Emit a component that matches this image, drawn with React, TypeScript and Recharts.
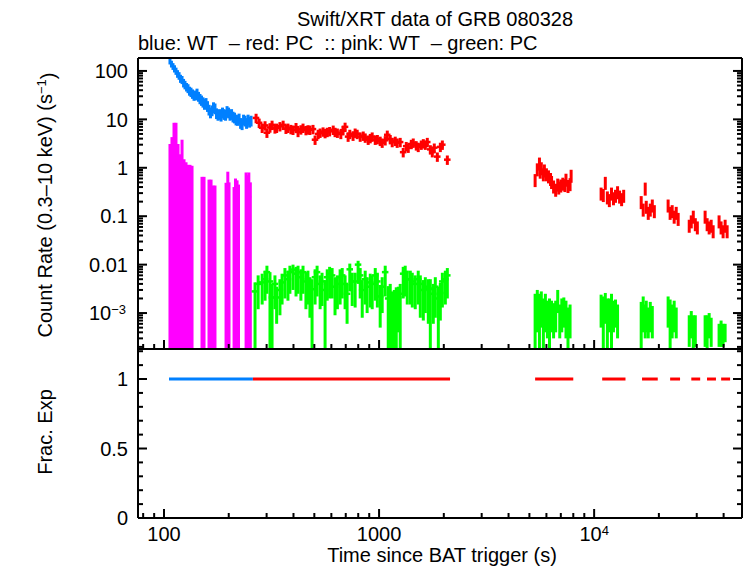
import React from 'react';
import { ComposedChart, Scatter, ErrorBar, XAxis, YAxis } from 'recharts';

const FONT = '"Liberation Sans", Arial, Helvetica, sans-serif';
const BLUE = '#0080ff';
const RED = '#ff0000';
const PINK = '#ff00ff';
const GREEN = '#00ff00';

const X_MIN = 75.7, X_MAX = 48700;
const Y_MIN = 1.81e-4, Y_MAX = 185;
const F_MIN = 0, F_MAX = 1.216;

// ---- tick values ----
const xMajor = [100, 1000, 10000];
const xMinor = [80, 90, 200, 300, 400, 500, 600, 700, 800, 900, 2000, 3000, 4000, 5000, 6000, 7000, 8000, 9000, 20000, 30000, 40000];
const yMajor = [0.001, 0.01, 0.1, 1, 10, 100];
const yMinor = [
  2e-4, 3e-4, 4e-4, 5e-4, 6e-4, 7e-4, 8e-4, 9e-4,
  2e-3, 3e-3, 4e-3, 5e-3, 6e-3, 7e-3, 8e-3, 9e-3,
  0.02, 0.03, 0.04, 0.05, 0.06, 0.07, 0.08, 0.09,
  0.2, 0.3, 0.4, 0.5, 0.6, 0.7, 0.8, 0.9,
  2, 3, 4, 5, 6, 7, 8, 9,
  20, 30, 40, 50, 60, 70, 80, 90,
];
const fracTicks = [0, 0.1, 0.2, 0.3, 0.4, 0.5, 0.6, 0.7, 0.8, 0.9, 1, 1.1, 1.2];
const fracMajor = [0, 0.5, 1];

// ---- data ----
// WT (blue): [time, rate, relative error]
const bluePts: [number, number, number][] = [
  [106.6, 160, 0.15], [108.3, 140, 0.16], [110.1, 125, 0.16], [111.9, 112, 0.17], [113.7, 100, 0.17],
  [115.6, 88, 0.18], [117.5, 80, 0.18], [119.3, 70, 0.19], [121.3, 66, 0.19], [123.3, 57, 0.2],
  [125.2, 52, 0.2], [127.3, 47, 0.2], [129.3, 44, 0.21], [131.4, 39, 0.21], [133.5, 37, 0.22],
  [135.7, 34, 0.22], [137.9, 31, 0.22], [140.1, 32, 0.23], [142.4, 35, 0.23], [144.7, 30, 0.23],
  [147, 27, 0.24], [149.4, 25, 0.24], [151.8, 23, 0.24], [154.3, 21, 0.25], [156.8, 22, 0.25],
  [159.3, 19, 0.25], [161.9, 16, 0.25], [164.5, 14, 0.25], [167.2, 15.5, 0.25], [169.9, 18, 0.25],
  [172.6, 17, 0.25], [175.4, 13.5, 0.25], [178.3, 12.5, 0.25], [181.2, 13, 0.25], [184.2, 12, 0.25],
  [187.1, 14, 0.25], [190.2, 13, 0.25], [193.3, 12.5, 0.25], [196.4, 15, 0.25], [199.6, 14, 0.25],
  [202.8, 12.5, 0.25], [206.1, 13, 0.25], [209.4, 11.5, 0.25], [212.8, 11, 0.25], [216.3, 10, 0.25],
  [219.8, 9.8, 0.25], [223.4, 10.5, 0.25], [227, 8.5, 0.25], [230.7, 8, 0.25], [234.4, 10, 0.25],
  [238.2, 9.5, 0.25], [242.1, 8.5, 0.25], [246, 10, 0.25], [250, 9, 0.25], [254, 9.5, 0.25],
];
const BLUE_BIN = 0.008;

// PC (red), early orbit: [time, rate]
const redEarly: [number, number][] = [
  [268, 10.7], [277, 8.5], [286, 6.7], [295, 7.5], [301, 5.3], [311, 6.8], [318, 7.7], [328, 6.5],
  [334, 6.7], [346, 7.2], [358, 7.7], [369, 6.4], [377, 6.7], [389, 6.3], [398, 6.1], [411, 6.9],
  [420, 5.5], [433, 6.2], [443, 6.7], [457, 6.0], [467, 6.2], [477, 6.1], [493, 6.3], [504, 3.8],
  [521, 5.0], [532, 5.3], [549, 5.6], [561, 5.2], [574, 5.5], [589, 5.7], [612, 6.1], [624, 5.5],
  [640, 5.3], [664, 5.0], [680, 6.0], [695, 7.0], [718, 4.4], [731, 5.0], [757, 4.6], [774, 5.3],
  [791, 5.0], [817, 4.4], [844, 4.6], [862, 4.2], [890, 3.8], [910, 4.1], [929, 4.4], [960, 3.8],
  [982, 3.9], [1012, 3.6], [1034, 3.3], [1068, 3.7], [1092, 4.8], [1127, 3.9], [1151, 3.4], [1189, 3.6],
  [1214, 3.3], [1254, 3.4], [1295, 2.1], [1338, 2.8], [1367, 2.6], [1412, 3.1], [1442, 3.3], [1489, 2.9],
  [1521, 2.7], [1571, 3.0], [1606, 3.2], [1641, 3.0], [1676, 3.4], [1731, 2.4], [1768, 2.1], [1806, 2.6],
  [1866, 1.7], [1927, 2.7], [1969, 3.0], [2077, 1.47],
];
const RED_EARLY_BIN = 0.035;
const RED_EARLY_ERR = 0.22;

// PC (red), later orbits: [time, rate]
const redLate: [number, number][] = [
  [5316, 0.57], [5441, 0.95], [5569, 1.25], [5615, 0.85], [5680, 1.0], [5807, 0.75], [5870, 0.9],
  [6000, 0.75], [6133, 0.68], [6270, 0.6], [6339, 0.52],
  [6478, 0.42], [6625, 0.36], [6772, 0.46], [6846, 0.4], [7000, 0.44], [7152, 0.48], [7310, 0.45],
  [7397, 0.58], [7559, 0.43], [7728, 0.47], [7816, 0.7],
  [10775, 0.3], [11030, 0.28], [11270, 0.5], [11520, 0.25], [11770, 0.22], [12040, 0.3], [12300, 0.24],
  [12570, 0.27], [12850, 0.32], [13130, 0.26], [13420, 0.23], [13720, 0.27],
  [16550, 0.2], [16910, 0.14], [17280, 0.38], [17470, 0.16], [17850, 0.12], [18240, 0.14], [18640, 0.17], [19050, 0.13],
  [22080, 0.17], [22560, 0.12], [23060, 0.13], [23560, 0.1], [24080, 0.12], [24590, 0.09],
  [27680, 0.065], [28290, 0.08], [28910, 0.1], [29540, 0.07], [30190, 0.06],
  [32810, 0.1], [33530, 0.07], [34260, 0.06], [35010, 0.065], [35760, 0.05],
  [38100, 0.08], [38930, 0.06], [39780, 0.05], [40650, 0.065], [41540, 0.05],
];
const RED_LATE_BIN = 0.008;
const RED_LATE_ERR = 0.3;

// WT (pink): [time, rate, upper bound]  (lower bound runs off the axis)
const pinkPts: [number, number, number][] = [
  [106.6, 0.6, 3.1], [108.9, 0.7, 4.3], [111.3, 0.8, 8.5], [113.7, 0.9, 8.5], [116.2, 0.6, 3.1],
  [118.7, 0.5, 1.9], [121.3, 0.6, 3.8], [123.9, 0.5, 1.5], [126.6, 0.5, 1.3], [129.3, 0.45, 1.15],
  [132.1, 0.45, 1.15], [135, 0.57, 1.1],
  [150.2, 0.28, 0.65], [153.5, 0.28, 0.65], [161.9, 0.28, 0.57], [165.5, 0.25, 0.57], [169.1, 0.22, 0.43], [172.6, 0.22, 0.43],
  [194.3, 0.23, 0.49], [198, 0.3, 0.83], [200.6, 0.22, 0.5],
  [211.7, 0.25, 0.4], [215, 0.3, 0.6], [218.6, 0.35, 0.55], [222, 0.25, 0.45],
  [240.8, 0.3, 0.8], [244, 0.35, 0.7], [248, 0.28, 0.8], [252, 0.25, 0.5],
];
const PINK_BIN = 0.009;

// PC (green): [time, rate, lower bound (0 = off axis), upper bound]
const greenPts: [number, number, number, number][] = [
  [265, 0.0028, 0, 0.0043], [274, 0.004, 0.0012, 0.006], [286, 0.0043, 0.0015, 0.0065], [295, 0.005, 0.0018, 0.0075],
  [301, 0.007, 0.0025, 0.0095], [311, 0.0045, 0, 0.007], [318, 0.0021, 0, 0.004], [328, 0.004, 0.0012, 0.006],
  [334, 0.0021, 0.0006, 0.0035], [346, 0.003, 0.0009, 0.005], [354, 0.0043, 0.0015, 0.0065], [365, 0.006, 0.002, 0.0085],
  [377, 0.005, 0.0018, 0.0075], [385, 0.007, 0.0025, 0.0095], [398, 0.0079, 0.003, 0.01], [411, 0.0065, 0.0022, 0.009],
  [420, 0.007, 0.0025, 0.0095], [433, 0.0055, 0.0018, 0.008], [443, 0.007, 0.0025, 0.0095], [457, 0.0045, 0.0012, 0.007],
  [467, 0.005, 0.0015, 0.0075], [477, 0.0035, 0.0008, 0.0055], [488, 0.0031, 0, 0.005], [504, 0.0055, 0.0015, 0.008],
  [515, 0.007, 0.0022, 0.0095], [532, 0.004, 0.0012, 0.006], [543, 0.0045, 0.0014, 0.0068], [561, 0.003, 0, 0.0048],
  [574, 0.0055, 0.0018, 0.008], [589, 0.0065, 0.002, 0.009], [605, 0.006, 0.002, 0.0085], [624, 0.0035, 0.0009, 0.0055],
  [640, 0.004, 0.0012, 0.006], [659, 0.0055, 0.0015, 0.008], [674, 0.006, 0.002, 0.0085], [695, 0.004, 0.0012, 0.006],
  [710, 0.0025, 0.0006, 0.004], [731, 0.008, 0.0028, 0.0105], [750, 0.0045, 0.0014, 0.0068], [774, 0.0045, 0.0013, 0.0068],
  [799, 0.01, 0.004, 0.012], [817, 0.006, 0.002, 0.0085], [835, 0.003, 0.0008, 0.0048], [862, 0.005, 0.0015, 0.0075],
  [880, 0.0035, 0.001, 0.0055], [910, 0.0043, 0.0013, 0.0065], [929, 0.004, 0.0012, 0.006], [960, 0.006, 0.0018, 0.0085],
  [982, 0.0045, 0.0013, 0.0068], [1012, 0.0022, 0.0005, 0.0038], [1034, 0.0035, 0.001, 0.0055], [1068, 0.007, 0.0022, 0.0095],
  [1103, 0.002, 0, 0.0036], [1127, 0.0025, 0, 0.004], [1151, 0.0015, 0, 0.0028], [1177, 0.0018, 0, 0.003],
  [1202, 0.002, 0, 0.0034], [1228, 0.0021, 0.0004, 0.0035], [1254, 0.0025, 0, 0.004], [1295, 0.0065, 0.002, 0.009],
  [1323, 0.007, 0.0022, 0.0095], [1352, 0.005, 0.0015, 0.0075], [1397, 0.005, 0.0015, 0.0075], [1427, 0.0045, 0.0013, 0.0068],
  [1473, 0.004, 0.0012, 0.006], [1521, 0.005, 0.0015, 0.0075], [1555, 0.004, 0.0008, 0.006], [1606, 0.003, 0.0007, 0.0048],
  [1641, 0.0035, 0.001, 0.0055], [1694, 0.0031, 0.0006, 0.005], [1731, 0.0032, 0, 0.005], [1787, 0.0025, 0.0006, 0.004],
  [1826, 0.0035, 0.0008, 0.0055], [1886, 0.002, 0, 0.0035], [1927, 0.0026, 0.0007, 0.0042], [1969, 0.0045, 0.0013, 0.0068],
  [2033, 0.005, 0.0015, 0.0075], [2077, 0.006, 0.002, 0.0085],
  [5316, 0.0015, 0, 0.0025], [5441, 0.0018, 0.0004, 0.003], [5569, 0.0013, 0, 0.0025], [5680, 0.0017, 0.0005, 0.0028],
  [5807, 0.0012, 0, 0.002], [5934, 0.0015, 0.0004, 0.0025], [6064, 0.0011, 0.0003, 0.0018], [6200, 0.0013, 0, 0.002],
  [6339, 0.0011, 0.0004, 0.0018], [6478, 0.0009, 0.0003, 0.0016], [6625, 0.0012, 0.0004, 0.0018], [6772, 0.0022, 0.001, 0.003],
  [6920, 0.0009, 0.0003, 0.0015], [7073, 0.0012, 0.0004, 0.002], [7230, 0.0014, 0.0005, 0.0021], [7397, 0.0011, 0.0003, 0.0018],
  [7559, 0.0008, 0, 0.0013], [7728, 0.001, 0.0003, 0.0015],
  [10775, 0.0015, 0.0005, 0.0024], [11030, 0.0012, 0, 0.0022], [11270, 0.0018, 0.0006, 0.0026], [11520, 0.0011, 0, 0.002],
  [11770, 0.0013, 0.0004, 0.002], [12040, 0.0016, 0, 0.0025], [12300, 0.0011, 0.0004, 0.0018], [12570, 0.0012, 0.0005, 0.0019],
  [12850, 0.0009, 0.0003, 0.0015],
  [16550, 0.001, 0, 0.0017], [16910, 0.0013, 0.0004, 0.0022], [17280, 0.0009, 0.0003, 0.0015], [17470, 0.0012, 0.0004, 0.0018],
  [17850, 0.0008, 0.0003, 0.0013], [18240, 0.0011, 0.0004, 0.0017], [18640, 0.0009, 0.0003, 0.0014],
  [22080, 0.0014, 0.0005, 0.0022], [22560, 0.0011, 0, 0.0019], [23060, 0.0009, 0.0003, 0.0015], [23560, 0.0012, 0.0004, 0.0018],
  [24080, 0.0008, 0.0003, 0.0013],
  [27680, 0.0006, 0.0002, 0.0009], [28290, 0.0007, 0.0003, 0.0011], [28910, 0.0005, 0, 0.0009], [29540, 0.0006, 0.0002, 0.0009],
  [32810, 0.0006, 0.0002, 0.0009], [33530, 0.0005, 0, 0.0009], [34260, 0.0007, 0.0003, 0.001], [35010, 0.0005, 0.0002, 0.0008],
  [38100, 0.0004, 0.0002, 0.0006], [38930, 0.0005, 0.0002, 0.0007], [39780, 0.00042, 0.0002, 0.0006], [40650, 0.00045, 0.00025, 0.0006],
];
const GREEN_EARLY_BIN = 0.035;
const GREEN_LATE_BIN = 0.008;

// Fractional exposure: [start, end, fraction, mode]
const fracPts: [number, number, number, string][] = [
  [105.5, 259, 1, 'WT'], [259, 2138, 1, 'PC'], [5316, 7998, 1, 'PC'], [10900, 13990, 1, 'PC'],
  [16700, 19760, 1, 'PC'], [22560, 25090, 1, 'PC'], [28300, 31120, 1, 'PC'], [33490, 36850, 1, 'PC'],
  [38950, 42870, 1, 'PC'],
];

// ---- row builders ----
type Row = { t: number; v: number; ex: [number, number]; ey: [number, number] };
const mk = (t: number, dt: number, v: number, lo: number, hi: number): Row => {
  const l = Math.max(lo, Y_MIN);
  return { t, v, ex: [t * dt, t * dt], ey: [v - l, hi - v] };
};
const blueRows = bluePts.map(([t, v, e]) => mk(t, BLUE_BIN, v, v * (1 - e), v * (1 + e)));
const redRows = [
  ...redEarly.map(([t, v]) => mk(t, RED_EARLY_BIN, v, v * (1 - RED_EARLY_ERR), v * (1 + RED_EARLY_ERR))),
  ...redLate.map(([t, v]) => mk(t, RED_LATE_BIN, v, v * (1 - RED_LATE_ERR), v * (1 + RED_LATE_ERR))),
];
const pinkRows = pinkPts.map(([t, v, hi]) => mk(t, PINK_BIN, v, 0, hi));
const greenRows = greenPts.map(([t, v, lo, hi]) => mk(t, t < 3000 ? GREEN_EARLY_BIN : GREEN_LATE_BIN, v, lo, hi));
const fracRow = ([a, b, f]: [number, number, number, string]) => {
  const t = Math.sqrt(a * b);
  return { t, v: f, ex: [t - a, b - t] as [number, number], ey: [0, 0] as [number, number] };
};
const fracWT = fracPts.filter((p) => p[3] === 'WT').map(fracRow);
const fracPC = fracPts.filter((p) => p[3] === 'PC').map(fracRow);

// ---- ticks ----
const isLogMajor = (v: number) => Math.abs(Math.log10(v) - Math.round(Math.log10(v))) < 1e-9;
const isFracMajor = (v: number) => fracMajor.some((m) => Math.abs(m - v) < 1e-9);
const TXT = { fontFamily: FONT, fontSize: 20, fill: '#000' } as const;
const SUP = 13;

type Side = 'bottom' | 'top' | 'left' | 'right';
const makeTick = (side: Side, isMajor: (v: number) => boolean, label?: (v: number, x: number, y: number) => React.ReactNode) =>
  (props: any) => {
    const { x, y, payload } = props;
    const v = payload.value as number;
    const len = isMajor(v) ? 9 : 5;
    let x2 = x, y2 = y;
    if (side === 'bottom') y2 = y - len;
    if (side === 'top') y2 = y + len;
    if (side === 'left') x2 = x + len;
    if (side === 'right') x2 = x - len;
    return (
      <g>
        <line x1={x} y1={y} x2={x2} y2={y2} stroke="#000" strokeWidth={2} />
        {label && isMajor(v) ? label(v, x, y) : null}
      </g>
    );
  };

const yLogLabel = (v: number, x: number, y: number) =>
  v < 0.005 ? (
    <text x={x - 12} y={y} dy="0.36em" textAnchor="end" {...TXT}>
      10<tspan dy="-0.5em" fontSize={SUP}>−3</tspan>
    </text>
  ) : (
    <text x={x - 10} y={y} dy="0.36em" textAnchor="end" {...TXT}>{String(v)}</text>
  );
const yFracLabel = (v: number, x: number, y: number) => (
  <text x={x - 10} y={y} dy="0.36em" textAnchor="end" {...TXT}>{String(v)}</text>
);
const xLogLabel = (v: number, x: number, y: number) =>
  v >= 10000 ? (
    <text x={x} y={y + 9} dy="0.71em" textAnchor="middle" {...TXT}>
      10<tspan dy="-0.45em" fontSize={SUP}>4</tspan>
    </text>
  ) : (
    <text x={x} y={y + 9} dy="0.71em" textAnchor="middle" {...TXT}>{String(v)}</text>
  );

const AX = { stroke: '#000', strokeWidth: 2 };
const xTicksAll = [...xMinor, ...xMajor].sort((a, b) => a - b);
const yTicksAll = [...yMinor, ...yMajor].sort((a, b) => a - b);

const noShape = () => <g />;

export default function App() {
  return (
    <div style={{ position: 'absolute', left: 0, top: 0, width: 746, height: 568, background: '#fff', overflow: 'hidden' }}>
      <div style={{ position: 'absolute', left: 0, top: 0 }}>
        <ComposedChart width={746} height={360} margin={{ top: 58, right: 4, bottom: 11, left: 78 }}>
          <XAxis xAxisId="b" dataKey="t" type="number" scale="log" domain={[X_MIN, X_MAX]} allowDataOverflow
            orientation="bottom" mirror ticks={xTicksAll} interval={0} tickSize={0} tickMargin={0} tickLine={false}
            axisLine={AX} tick={makeTick('bottom', isLogMajor)} />
          <XAxis xAxisId="t" type="number" scale="log" domain={[X_MIN, X_MAX]} allowDataOverflow
            orientation="top" mirror ticks={xTicksAll} interval={0} tickSize={0} tickMargin={0} tickLine={false}
            axisLine={AX} tick={makeTick('top', isLogMajor)} />
          <YAxis yAxisId="l" dataKey="v" type="number" scale="log" domain={[Y_MIN, Y_MAX]} allowDataOverflow
            orientation="left" width={60} ticks={yTicksAll} interval={0} tickSize={0} tickMargin={0} tickLine={false}
            axisLine={AX} tick={makeTick('left', isLogMajor, yLogLabel)} />
          <YAxis yAxisId="r" type="number" scale="log" domain={[Y_MIN, Y_MAX]} allowDataOverflow
            orientation="right" mirror ticks={yTicksAll} interval={0} tickSize={0} tickMargin={0} tickLine={false}
            axisLine={AX} tick={makeTick('right', isLogMajor)} />
          <Scatter data={pinkRows} xAxisId="b" yAxisId="l" isAnimationActive={false} shape={noShape}>
            <ErrorBar dataKey="ey" direction="y" width={0} stroke={PINK} strokeWidth={3} isAnimationActive={false} />
            <ErrorBar dataKey="ex" direction="x" width={0} stroke={PINK} strokeWidth={2} isAnimationActive={false} />
          </Scatter>
          <Scatter data={greenRows} xAxisId="b" yAxisId="l" isAnimationActive={false} shape={noShape}>
            <ErrorBar dataKey="ey" direction="y" width={0} stroke={GREEN} strokeWidth={3} isAnimationActive={false} />
            <ErrorBar dataKey="ex" direction="x" width={0} stroke={GREEN} strokeWidth={2.5} isAnimationActive={false} />
          </Scatter>
          <Scatter data={blueRows} xAxisId="b" yAxisId="l" isAnimationActive={false} shape={noShape}>
            <ErrorBar dataKey="ey" direction="y" width={0} stroke={BLUE} strokeWidth={3} isAnimationActive={false} />
            <ErrorBar dataKey="ex" direction="x" width={0} stroke={BLUE} strokeWidth={2.5} isAnimationActive={false} />
          </Scatter>
          <Scatter data={redRows} xAxisId="b" yAxisId="l" isAnimationActive={false} shape={noShape}>
            <ErrorBar dataKey="ey" direction="y" width={0} stroke={RED} strokeWidth={3} isAnimationActive={false} />
            <ErrorBar dataKey="ex" direction="x" width={0} stroke={RED} strokeWidth={2.5} isAnimationActive={false} />
          </Scatter>
        </ComposedChart>
      </div>
      <div style={{ position: 'absolute', left: 0, top: 340 }}>
        <ComposedChart width={746} height={228} margin={{ top: 9, right: 4, bottom: 20, left: 78 }}>
          <XAxis xAxisId="b" dataKey="t" type="number" scale="log" domain={[X_MIN, X_MAX]} allowDataOverflow
            orientation="bottom" height={30} ticks={xTicksAll} interval={0} tickSize={0} tickMargin={0} tickLine={false}
            axisLine={AX} tick={makeTick('bottom', isLogMajor, xLogLabel)} />
          <XAxis xAxisId="t" type="number" scale="log" domain={[X_MIN, X_MAX]} allowDataOverflow
            orientation="top" mirror ticks={xTicksAll} interval={0} tickSize={0} tickMargin={0} tickLine={false}
            axisLine={AX} tick={makeTick('top', isLogMajor)} />
          <YAxis yAxisId="l" dataKey="v" type="number" domain={[F_MIN, F_MAX]} allowDataOverflow
            orientation="left" width={60} ticks={fracTicks} interval={0} tickSize={0} tickMargin={0} tickLine={false}
            axisLine={AX} tick={makeTick('left', isFracMajor, yFracLabel)} />
          <YAxis yAxisId="r" type="number" domain={[F_MIN, F_MAX]} allowDataOverflow
            orientation="right" mirror ticks={fracTicks} interval={0} tickSize={0} tickMargin={0} tickLine={false}
            axisLine={AX} tick={makeTick('right', isFracMajor)} />
          <Scatter data={fracWT} xAxisId="b" yAxisId="l" isAnimationActive={false} shape={noShape}>
            <ErrorBar dataKey="ex" direction="x" width={0} stroke={BLUE} strokeWidth={3} isAnimationActive={false} />
          </Scatter>
          <Scatter data={fracPC} xAxisId="b" yAxisId="l" isAnimationActive={false} shape={noShape}>
            <ErrorBar dataKey="ex" direction="x" width={0} stroke={RED} strokeWidth={3} isAnimationActive={false} />
          </Scatter>
        </ComposedChart>
      </div>
      <svg width={746} height={568} style={{ position: 'absolute', left: 0, top: 0, pointerEvents: 'none' }}>
        <text x={435} y={26} textAnchor="middle" {...TXT}>Swift/XRT data of GRB 080328</text>
        <text x={138} y={50} textAnchor="start" {...TXT} style={{ whiteSpace: 'pre' }}>
          {'blue: WT  \u2013 red: PC  :: pink: WT  \u2013 green: PC'}
        </text>
        <text x={52} y={205} textAnchor="middle" transform="rotate(-90 52 205)" {...TXT}>
          Count Rate (0.3–10 keV) (s<tspan dy="-0.45em" fontSize={SUP}>−1</tspan><tspan dy="0.45em">)</tspan>
        </text>
        <text x={52} y={432} textAnchor="middle" transform="rotate(-90 52 432)" {...TXT}>Frac. Exp</text>
        <text x={442} y={562} textAnchor="middle" {...TXT}>Time since BAT trigger (s)</text>
      </svg>
    </div>
  );
}
